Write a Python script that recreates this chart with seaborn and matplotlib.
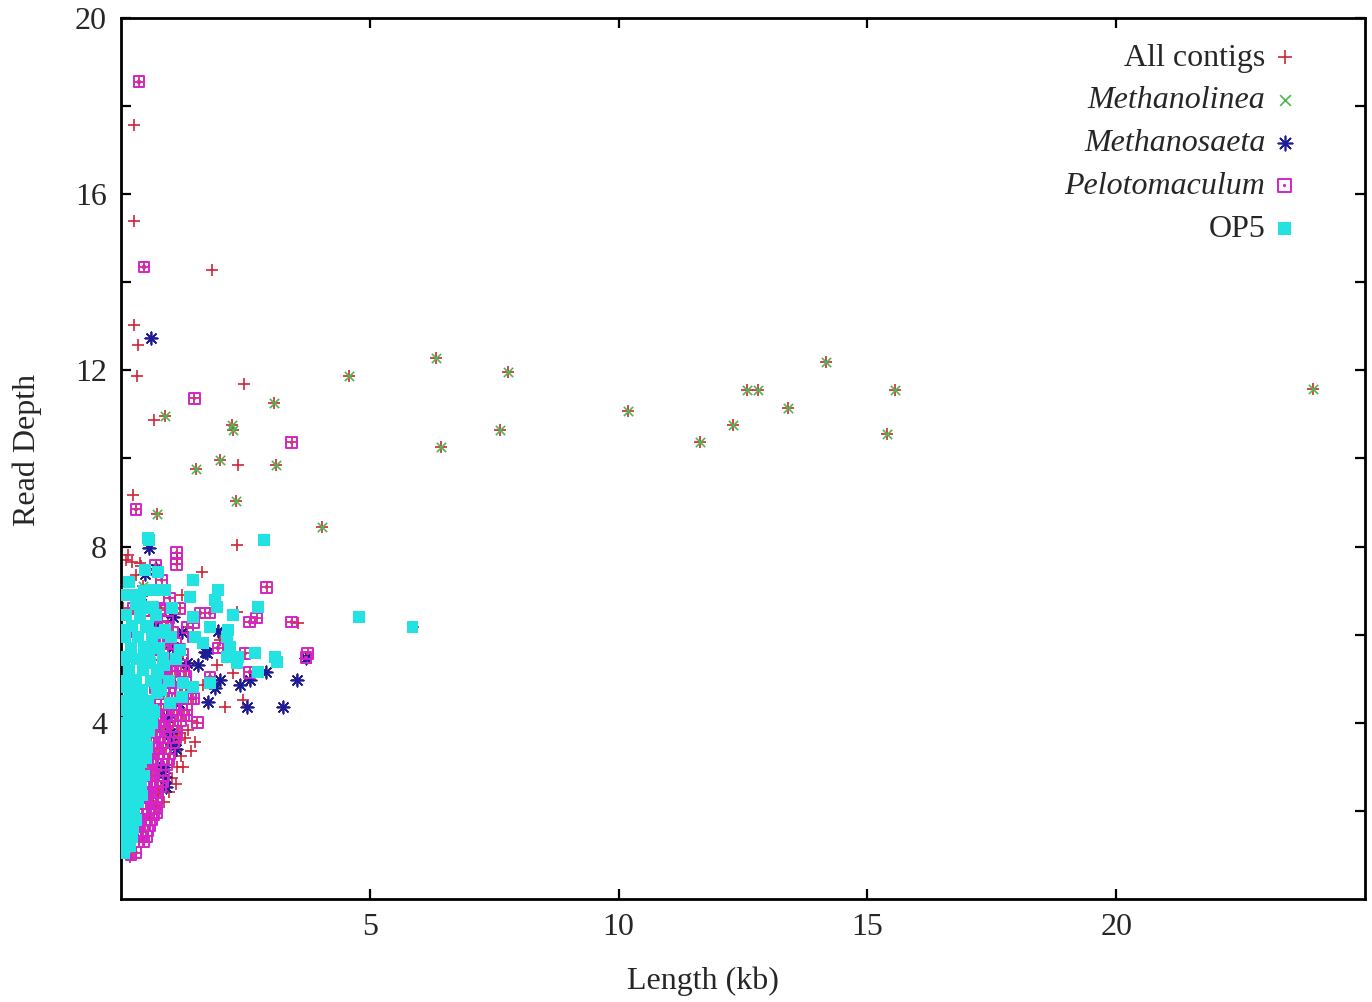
import matplotlib
matplotlib.use("Agg")
import matplotlib.pyplot as plt
from matplotlib.path import Path
import seaborn as sns

# ---- contig data: length (kb) and read depth ----
# Methanolinea contigs
mlinea_x = [0.88, 1.51, 0.72, 1.99, 2.23, 2.25, 2.31, 3.07, 3.11, 4.04, 4.58, 6.33, 6.43,
            7.77, 7.61, 10.18, 11.63, 12.29, 12.59, 12.81, 13.41, 14.16, 15.40, 15.56, 23.96, 0.44]
mlinea_y = [10.96, 9.76, 8.74, 9.97, 10.76, 10.65, 9.04, 11.26, 9.85, 8.44, 11.87, 12.28, 10.26,
            11.96, 10.65, 11.08, 10.37, 10.76, 11.55, 11.55, 11.15, 12.19, 10.56, 11.55, 11.58, 7.10]

# Methanosaeta contigs
msaeta_x = [0.60, 0.56, 0.48, 0.32, 1.04, 1.95, 1.69, 1.55, 3.71, 2.91, 2.59, 3.53, 1.99, 2.39,
            1.89, 1.75, 2.53, 3.25, 0.98, 0.88, 0.84, 0.92, 0.78, 1.33, 1.04, 1.72, 1.10, 1.00,
            1.16, 0.96, 0.70, 0.40, 0.70, 0.90, 1.22]
msaeta_y = [12.74, 7.97, 7.38, 6.81, 6.40, 6.08, 5.61, 5.31, 5.47, 5.15, 4.97, 4.97, 4.97, 4.86,
            4.79, 4.47, 4.36, 4.36, 3.77, 2.77, 3.00, 4.13, 4.81, 5.36, 5.72, 5.58, 3.40, 3.55,
            4.45, 4.95, 6.20, 6.90, 7.50, 2.55, 6.05]

# Pelotomaculum contigs
pelo_x = [0.36, 0.46, 1.47, 3.43, 0.30, 1.12, 1.12, 1.12, 0.70, 0.82, 2.93, 0.24, 0.78, 1.18,
          0.98, 1.59, 1.79, 1.45, 2.59, 2.73, 3.43, 1.33, 1.45, 1.95, 2.49, 3.75, 3.72, 2.59,
          1.79, 1.45, 1.53, 0.74, 0.72, 0.42, 0.12, 0.12, 0.30, 0.20,
          0.36, 0.46, 0.30, 0.44, 0.54, 0.38, 0.50, 0.62, 0.42, 0.56, 0.68, 0.46, 0.60, 0.74,
          0.48, 0.62, 0.80, 0.50, 0.66, 0.86, 0.54, 0.70, 0.92, 0.58, 0.76, 0.98, 0.66, 0.84,
          1.06, 0.72, 0.90, 1.12, 0.80, 0.98, 1.20, 0.86, 1.06, 1.32, 0.92, 1.14, 1.40, 0.70,
          0.98, 1.22, 0.82, 1.08, 1.30, 0.90, 1.20, 0.96, 1.24, 0.66, 0.90, 1.10, 0.88, 1.04,
          0.60, 0.94, 0.56, 0.80,
          0.40, 0.52, 0.34, 0.48, 0.58, 0.44, 0.56, 0.66, 0.40, 0.52, 0.64, 0.72, 0.44, 0.56,
          0.70, 0.46, 0.58, 0.74, 0.84, 0.50, 0.62, 0.80, 0.48, 0.64, 0.84, 0.96, 0.56, 0.72,
          0.90, 0.60, 0.78, 0.96, 1.10, 0.68, 0.86, 1.04, 0.74, 0.92, 1.12, 1.26, 0.80, 1.00,
          1.22, 0.86, 1.08, 1.30, 0.76, 0.94, 1.16, 0.88, 1.02, 1.26, 0.78, 1.08, 0.84, 1.18,
          0.74, 0.98, 0.70, 0.90]
pelo_y = [18.55, 14.35, 11.37, 10.37, 8.85, 7.86, 7.73, 7.60, 7.58, 7.24, 7.08, 6.60, 6.60, 6.60,
          6.83, 6.49, 6.49, 6.27, 6.29, 6.38, 6.29, 6.17, 5.95, 5.70, 5.58, 5.58, 5.48, 5.15,
          5.04, 4.56, 4.00, 2.41, 1.95, 1.41, 6.06, 4.81, 1.05, 1.00,
          1.30, 1.30, 1.55, 1.55, 1.55, 1.80, 1.80, 1.80, 2.05, 2.05, 2.05, 2.30, 2.30, 2.30,
          2.55, 2.55, 2.55, 2.80, 2.80, 2.80, 3.05, 3.05, 3.05, 3.30, 3.30, 3.30, 3.55, 3.55,
          3.55, 3.80, 3.80, 3.80, 4.05, 4.05, 4.05, 4.30, 4.30, 4.30, 4.55, 4.55, 4.55, 4.80,
          4.80, 4.80, 5.05, 5.05, 5.05, 5.30, 5.30, 5.55, 5.55, 5.80, 5.80, 5.80, 6.05, 6.05,
          6.30, 6.30, 6.55, 6.55,
          1.42, 1.42, 1.67, 1.67, 1.67, 1.92, 1.92, 1.92, 2.17, 2.17, 2.17, 2.17, 2.42, 2.42,
          2.42, 2.67, 2.67, 2.67, 2.67, 2.92, 2.92, 2.92, 3.17, 3.17, 3.17, 3.17, 3.42, 3.42,
          3.42, 3.67, 3.67, 3.67, 3.67, 3.92, 3.92, 3.92, 4.17, 4.17, 4.17, 4.17, 4.42, 4.42,
          4.42, 4.67, 4.67, 4.67, 4.92, 4.92, 4.92, 5.17, 5.17, 5.17, 5.42, 5.42, 5.67, 5.67,
          5.92, 5.92, 6.17, 6.17]

# OP5 contigs
op5_x = [0.56, 2.87, 4.78, 5.86, 0.48, 0.74, 1.45, 0.64, 0.88, 1.95, 1.89, 1.39, 1.93, 0.44,
         0.64, 1.02, 2.75, 2.25, 0.38, 1.45, 1.79, 2.15, 1.49, 0.12, 0.78, 0.48, 1.18, 2.13,
         2.19, 1.65, 2.69, 3.09, 3.13, 2.35, 2.33, 2.13, 2.75, 1.79, 1.25, 1.45, 1.22, 0.52,
         0.58, 0.84, 0.74, 0.24, 0.34, 0.72, 0.98, 0.12, 0.52, 0.62, 0.18, 0.38, 0.18, 0.32,
         0.14, 0.24, 0.12, 0.28, 0.14, 0.18, 0.12, 0.08, 0.04, 0.04, 0.04, 0.04, 0.54, 0.38,
         0.54,
         0.06, 0.08, 0.18, 0.06, 0.22, 0.10, 0.24, 0.06, 0.18, 0.30, 0.12, 0.26, 0.06, 0.20,
         0.34, 0.10, 0.28, 0.06, 0.18, 0.36, 0.12, 0.30, 0.06, 0.22, 0.40, 0.10, 0.30, 0.06,
         0.20, 0.44, 0.14, 0.36, 0.56, 0.06, 0.26, 0.50, 0.16, 0.40, 0.66, 0.06, 0.30, 0.54,
         0.18, 0.42, 0.80, 0.06, 0.30, 0.60, 0.96, 0.16, 0.44, 0.72, 0.06, 0.32, 0.56, 1.10,
         0.20, 0.46, 0.76, 0.08, 0.34, 0.62, 1.00, 0.22, 0.50, 0.10, 0.38, 0.70, 0.30, 0.46,
         0.42, 0.46, 0.50, 0.52, 0.36, 0.40, 0.48, 0.62, 0.70, 0.86, 0.66, 0.88, 0.58, 0.26,
         0.16, 0.06]
op5_y = [8.15, 8.15, 6.40, 6.17, 7.47, 7.42, 7.24, 7.01, 7.01, 7.01, 6.79, 6.86, 6.63, 6.63,
         6.63, 6.60, 6.63, 6.45, 6.38, 6.40, 6.17, 6.11, 5.95, 5.49, 6.04, 5.72, 5.65, 5.95,
         5.72, 5.81, 5.58, 5.49, 5.38, 5.49, 5.36, 5.49, 5.15, 4.90, 4.90, 4.81, 4.59, 5.58,
         5.36, 5.47, 5.13, 4.97, 4.68, 4.68, 4.45, 4.29, 4.13, 4.00, 3.84, 3.61, 3.31, 3.22,
         2.86, 2.63, 2.41, 2.25, 1.95, 1.63, 1.34, 1.18, 3.77, 4.81, 5.43, 6.11, 6.17, 6.79,
         8.20,
         1.05, 1.20, 1.20, 1.40, 1.40, 1.60, 1.60, 1.80, 1.80, 1.80, 2.00, 2.00, 2.20, 2.20,
         2.20, 2.45, 2.45, 2.65, 2.65, 2.65, 2.90, 2.90, 3.10, 3.10, 3.10, 3.35, 3.35, 3.55,
         3.55, 3.55, 3.80, 3.80, 3.80, 4.00, 4.00, 4.00, 4.25, 4.25, 4.25, 4.50, 4.50, 4.50,
         4.75, 4.75, 4.75, 4.95, 4.95, 4.95, 4.95, 5.20, 5.20, 5.20, 5.45, 5.45, 5.45, 5.45,
         5.70, 5.70, 5.70, 5.95, 5.95, 5.95, 5.95, 6.20, 6.20, 6.45, 6.45, 6.45, 6.70, 7.00,
         2.35, 2.80, 3.20, 3.45, 3.00, 2.55, 3.70, 4.30, 4.90, 5.30, 5.70, 6.10, 6.60, 6.90,
         7.20, 6.90]

# remaining contigs not assigned to these taxa
other_x = [0.26, 0.26, 0.26, 0.34, 0.32, 1.83, 0.66, 2.47, 2.35, 0.24, 2.33, 1.63, 0.14, 0.22,
           1.22, 2.33, 1.99, 1.93, 2.25, 1.65, 2.09, 2.45, 3.55, 1.35, 1.18, 1.49, 1.14, 1.29,
           1.12, 1.25, 0.96, 0.58, 0.44, 0.18, 0.02, 0.66, 0.76, 1.42, 1.02, 0.30, 0.10, 0.40,
           0.55, 0.86, 1.10, 1.20, 1.40, 0.06, 0.04, 0.38]
other_y = [17.57, 15.39, 13.03, 12.58, 11.87, 14.28, 10.87, 11.69, 9.85, 9.17, 8.04, 7.42, 7.81,
           7.65, 6.90, 6.52, 5.88, 5.31, 5.13, 4.86, 4.36, 4.52, 6.27, 3.84, 3.77, 3.56, 3.61,
           3.66, 3.00, 3.00, 2.43, 1.79, 1.29, 0.95, 3.95, 2.10, 2.45, 4.05, 2.75, 7.35, 7.70,
           7.55, 1.55, 2.20, 2.60, 3.25, 3.35, 5.30, 6.60, 7.63]

# every contig, whatever its taxon
all_x = other_x + mlinea_x + msaeta_x + pelo_x + op5_x
all_y = other_y + mlinea_y + msaeta_y + pelo_y + op5_y

series_labels = ["All contigs", "Methanolinea", "Methanosaeta", "Pelotomaculum", "OP5"]
x_ticks = [5, 10, 15, 20]
y_major = [4, 8, 12, 16, 20]
y_minor = [2, 6, 10, 14, 18]

# ---- styling ----
sns.set_theme(style="ticks")
plt.rcParams["font.family"] = ["Liberation Serif", "DejaVu Serif"]

red = "#d02438"
green = "#4cb84c"
blue = "#1c1c96"
magenta = "#d424c8"
cyan = "#22e2e2"

# open square with a small centre dot
box_dot = Path(
    [(-1, -1), (1, -1), (1, 1), (-1, 1), (-1, -1),
     (-0.12, -0.12), (0.12, -0.12), (0.12, 0.12), (-0.12, 0.12), (-0.12, -0.12)],
    [Path.MOVETO, Path.LINETO, Path.LINETO, Path.LINETO, Path.CLOSEPOLY,
     Path.MOVETO, Path.LINETO, Path.LINETO, Path.LINETO, Path.CLOSEPOLY])
asterisk = (8, 2, 0)

fig = plt.figure(figsize=(13.72, 10.02), dpi=100)
ax = fig.add_axes([121 / 1372, 1 - 899 / 1002, 1244 / 1372, 881 / 1002])

sns.scatterplot(x=all_x, y=all_y, ax=ax, marker="+", s=80, color=red,
                linewidth=1.2, label=series_labels[0], zorder=2)
sns.scatterplot(x=mlinea_x, y=mlinea_y, ax=ax, marker="x", s=45, color=green,
                linewidth=1.2, label=series_labels[1], zorder=3)
sns.scatterplot(x=msaeta_x, y=msaeta_y, ax=ax, marker=asterisk, s=80, color=blue,
                linewidth=1.2, label=series_labels[2], zorder=4)
sns.scatterplot(x=pelo_x, y=pelo_y, ax=ax, marker=box_dot, s=60, facecolor="none",
                edgecolor=magenta, linewidth=1.4, label=series_labels[3], zorder=5)
sns.scatterplot(x=op5_x, y=op5_y, ax=ax, marker="s", s=70, color=cyan,
                edgecolor="none", linewidth=0, label=series_labels[4], zorder=6)

ax.set_xlim(0, 25)
ax.set_ylim(0, 20)
ax.set_xticks(x_ticks)
ax.set_xticklabels([str(t) for t in x_ticks])
ax.set_yticks(y_major)
ax.set_yticklabels([str(t) for t in y_major])
ax.set_yticks(y_minor, minor=True)

for side in ["top", "right", "bottom", "left"]:
    ax.spines[side].set_visible(True)
    ax.spines[side].set_linewidth(2.0)
    ax.spines[side].set_color("black")

ax.tick_params(axis="both", which="both", direction="in", top=True, right=True,
               length=7, width=1.6, color="black", labelsize=23, pad=10)

ax.set_xlabel("Length (kb)", fontsize=23)
ax.set_ylabel("Read Depth", fontsize=23)
ax.xaxis.set_label_coords((703 - 121) / 1244, (899 - 966) / 881)
ax.yaxis.set_label_coords((12 - 121) / 1244, (899 - 450) / 881)
ax.yaxis.label.set_va("top")

leg = ax.legend(loc="upper right", frameon=False, markerfirst=False, fontsize=23,
                labelspacing=0.42, handletextpad=0.1, borderaxespad=0.3,
                handlelength=1.0, markerscale=1.15,
                bbox_to_anchor=(1 - 42 / 1244, 1 - 3 / 881))
for txt in leg.get_texts():
    if txt.get_text() in ("Methanolinea", "Methanosaeta", "Pelotomaculum"):
        txt.set_fontstyle("italic")

fig.savefig("out.png", dpi=100, facecolor="white")
